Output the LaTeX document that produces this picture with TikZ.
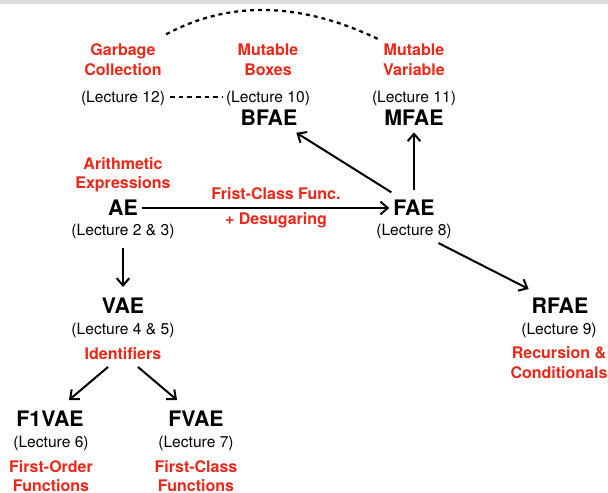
\documentclass[tikz,border=0pt]{standalone}
\usepackage{fontspec}
\setmainfont{TeX Gyre Heros}
\usetikzlibrary{arrows.meta}
\definecolor{lred}{RGB}{238,38,24}
\definecolor{band}{RGB}{220,220,220}
\tikzset{
  lang/.style={font=\bfseries\fontsize{16}{16}\selectfont, text height=11.5pt, text depth=0pt, inner sep=0pt, outer sep=0pt},
  lect/.style={font=\fontsize{11.7}{12}\selectfont, text height=8.4pt, text depth=0pt, inner sep=0pt, outer sep=0pt},
  topic/.style={font=\bfseries\fontsize{12}{12}\selectfont, text=lred, text height=8.6pt, text depth=0pt, inner sep=0pt, outer sep=0pt},
  arr/.style={line width=1.5pt, -{Straight Barb[length=5.5pt,width=9.5pt]}},
  dashline/.style={line width=1.8pt, dash pattern=on 3.5pt off 3pt},
  dasharc/.style={line width=1.7pt, dash pattern=on 3pt off 3pt}
}
\begin{document}
\begin{tikzpicture}[x=0.75pt,y=-0.75pt]
\useasboundingbox (0,0) rectangle (608,493);
\fill[band] (0,0) rectangle (608,3.5);

% top row
\node[topic] (gc1) at (123,50) {Garbage};
\node[topic] (gc2) at (123,69.5) {Collection};
\node[lect] (l12) at (123,97) {(Lecture 12)};

\node[topic] (mb1) at (268,50) {Mutable};
\node[topic] (mb2) at (268,69.5) {Boxes};
\node[lect] (l10) at (268,97) {(Lecture 10)};
\node[lang] (bfae) at (269,118) {BFAE};

\node[topic] (mv1) at (414,50) {Mutable};
\node[topic] (mv2) at (414,69.5) {Variable};
\node[lect] (l11) at (414,97) {(Lecture 11)};
\node[lang] (mfae) at (414,118) {MFAE};

% middle row
\node[topic] (ar1) at (123,164) {Arithmetic};
\node[topic] (ar2) at (123,183) {Expressions};
\node[lang] (ae) at (123,208) {AE};
\node[lect] (l23) at (123,230) {(Lecture 2 \& 3)};

\node[topic] (fc1) at (276,194) {Frist-Class Func.};
\node[topic] (fc2) at (276,219) {+ Desugaring};

\node[lang] (fae) at (414,208) {FAE};
\node[lect] (l8) at (414,230) {(Lecture 8)};

% lower rows
\node[lang] (vae) at (123,306) {VAE};
\node[lect] (l45) at (123,329) {(Lecture 4 \& 5)};
\node[topic] (id) at (123,354) {Identifiers};

\node[lang] (rfae) at (560,306) {RFAE};
\node[lect] (l9) at (559,329) {(Lecture 9)};
\node[topic] (rc1) at (559,353) {Recursion \&};
\node[topic] (rc2) at (559,372.5) {Conditionals};

\node[lang] (f1vae) at (50,419) {F1VAE};
\node[lect] (l6) at (51,442) {(Lecture 6)};
\node[topic] (fo1) at (51,467) {First-Order};
\node[topic] (fo2) at (51,485.5) {Functions};

\node[lang] (fvae) at (196,419) {FVAE};
\node[lect] (l7) at (196,442) {(Lecture 7)};
\node[topic] (fcl1) at (196,467) {First-Class};
\node[topic] (fcl2) at (196,485.5) {Functions};

% connectors
\draw[arr] ([xshift=3pt]ae.east) -- ([xshift=-3pt]fae.west);
\draw[arr] ([yshift=7.5pt]fae.north) -- ([yshift=-5pt]mfae.south);
\draw[arr] ([xshift=-1.5pt,yshift=6pt]fae.north west) -- ([xshift=-0.75pt,yshift=-5.3pt]bfae.south east);
\draw[arr] ([xshift=2.8pt,yshift=-20.5pt]fae.south east) -- ([xshift=-2.25pt,yshift=7pt]rfae.north west);
\draw[arr] ([yshift=-24.2pt]ae.south) -- ([yshift=8.5pt]vae.north);
\draw[arr] ([xshift=-11.25pt,yshift=-40pt]vae.south) -- ([xshift=14.25pt,yshift=8.5pt]f1vae.north);
\draw[arr] ([xshift=11.25pt,yshift=-40pt]vae.south) -- ([xshift=-14.25pt,yshift=8.5pt]fvae.north);

\draw[dashline] ([xshift=3.75pt]l12.east) -- ([xshift=-2pt]l10.west);
\draw[dasharc] ([xshift=8pt,yshift=7.5pt]gc1.north east) .. controls (230,0) and (302,2) .. ([xshift=-2.3pt,yshift=3pt]mv1.north west);
\end{tikzpicture}
\end{document}
